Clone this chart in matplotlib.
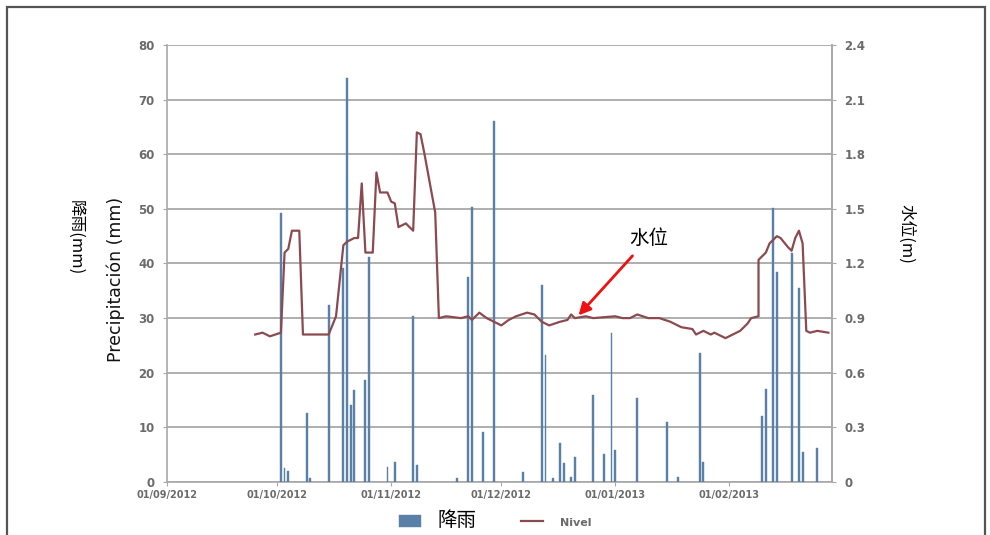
import datetime as dt
import matplotlib
matplotlib.use("Agg")
import matplotlib.pyplot as plt
import matplotlib.dates as mdates
from matplotlib.patches import Rectangle

START = dt.date(2012, 9, 1)

# rainfall: day offset from 01/09/2012 and daily total (mm)
rain_day = [31.4, 32.6, 33.0, 38.5, 39.4, 44.6, 48.5, 49.4, 50.5, 51.4, 54.3, 55.6,
            60.3, 62.4, 67.4, 68.2, 79.3, 82.4, 83.1, 86.3, 89.3, 97.4, 102.2, 103.1,
            105.4, 107.2, 108.1, 110.4, 111.3, 116.3, 119.3, 121.2, 122.0, 128.3,
            136.2, 139.2, 145.3, 146.2, 162.1, 163.0, 165.3, 166.2, 170.2, 172.3,
            173.2, 177.1]
rain_mm = [49.2, 2.5, 2.0, 12.6, 0.7, 32.4, 39.2, 73.9, 14.1, 16.8, 18.7, 41.2,
           2.8, 3.7, 30.4, 3.1, 0.7, 37.6, 50.4, 9.2, 66.0, 1.9, 36.1, 23.2,
           0.7, 7.1, 3.4, 1.0, 4.6, 15.9, 5.2, 27.2, 5.9, 15.3,
           11.0, 1.0, 23.6, 3.7, 12.0, 17.1, 50.2, 38.5, 41.9, 35.5,
           5.5, 6.2]

# water level: day offset and level (m)
level_day = [24.6, 26.5, 28.5, 31.4, 32.3, 33.2, 34.3, 36.4, 37.8, 44.6, 46.4, 48.5,
             49.5, 51.2, 52.3, 53.4, 54.5, 56.2, 57.7, 58.8, 60.3, 61.5, 62.4, 63.9,
             65.0, 67.0, 67.7, 68.6, 69.3, 70.9, 72.7, 73.9, 74.5, 76.5, 80.0, 82.2,
             83.6, 85.8, 87.7, 89.9, 91.7, 93.6, 95.4, 98.1, 100.4, 102.6, 104.9,
             107.6, 109.4, 110.5, 111.7, 114.0, 116.7, 122.2, 124.0, 126.0, 128.5,
             131.2, 134.0, 137.6, 140.3, 143.0, 144.4, 146.7, 148.0, 149.8, 152.5,
             154.4, 156.2, 158.0, 159.4, 161.0, 161.9, 163.4, 164.8, 166.2, 167.7,
             169.2, 170.2, 171.3, 172.5, 173.4, 174.0, 175.7, 177.5, 180.2]
level_m = [0.81, 0.82, 0.80, 0.82, 1.26, 1.28, 1.38, 1.38, 0.81, 0.81, 0.91, 1.30,
           1.32, 1.34, 1.34, 1.64, 1.26, 1.26, 1.70, 1.59, 1.59, 1.54, 1.53, 1.40,
           1.42, 1.38, 1.38, 1.92, 1.91, 1.81, 1.59, 1.48, 0.90, 0.91, 0.90, 0.91,
           0.89, 0.93, 0.90, 0.88, 0.86, 0.89, 0.91, 0.93, 0.92, 0.88, 0.86,
           0.88, 0.89, 0.92, 0.90, 0.91, 0.90, 0.91, 0.90, 0.90, 0.92,
           0.90, 0.90, 0.88, 0.85, 0.84, 0.81, 0.83, 0.81, 0.82, 0.79,
           0.81, 0.83, 0.87, 0.90, 0.91, 1.22, 1.26, 1.31, 1.35, 1.34,
           1.29, 1.27, 1.34, 1.38, 1.31, 0.83, 0.82, 0.83, 0.82]

rain_ticks = list(range(0, 81, 10))
level_ticks = [0, 0.3, 0.6, 0.9, 1.2, 1.5, 1.8, 2.1, 2.4]
level_tick_labels = ["0", "0.3", "0.6", "0.9", "1.2", "1.5", "1.8", "2.1", "2.4"]
month_ticks = [dt.date(2012, 9, 1), dt.date(2012, 10, 1), dt.date(2012, 11, 1),
               dt.date(2012, 12, 1), dt.date(2013, 1, 1), dt.date(2013, 2, 1)]

CJK = ["Noto Sans CJK SC", "DejaVu Sans"]
TICK_GREY = "#6b6b6b"
GRID_GREY = "#a8a8a8"


def to_date(d):
    return START + dt.timedelta(days=d)


rain_dates = [to_date(d) for d in rain_day]
level_dates = [to_date(d) for d in level_day]

fig = plt.figure(figsize=(9.9, 5.35), dpi=100)
ax = fig.add_axes([0.1687, 0.0991, 0.6717, 0.8168])

bars = ax.bar(rain_dates, rain_mm, width=0.5, color="#5b80a8",
              edgecolor="#5b80a8", linewidth=0.3, zorder=3)
ax.set_ylim(0, 80)
ax.set_yticks(rain_ticks)
ax.set_xlim(START, dt.date(2013, 3, 1))
ax.set_xticks(month_ticks)
ax.xaxis.set_major_formatter(mdates.DateFormatter("%d/%m/%Y"))
ax.grid(axis="y", color=GRID_GREY, linewidth=1.3, zorder=0)
ax.set_axisbelow(True)

ax.spines["top"].set_visible(False)
for side in ("left", "right", "bottom"):
    ax.spines[side].set_color(GRID_GREY)
    ax.spines[side].set_linewidth(1.2)

ax.tick_params(axis="y", length=3, color=GRID_GREY, labelsize=8.5,
               labelcolor=TICK_GREY, pad=6)
ax.tick_params(axis="x", length=3, color=GRID_GREY, labelsize=7,
               labelcolor=TICK_GREY, pad=3)
for lbl in ax.get_yticklabels() + ax.get_xticklabels():
    lbl.set_fontweight("bold")

ax2 = ax.twinx()
line, = ax2.plot(level_dates, level_m, color="#8b4a50", linewidth=1.6, zorder=4)
ax2.set_ylim(0, 2.4)
ax2.set_yticks(level_ticks)
ax2.set_yticklabels(level_tick_labels)
ax2.spines["top"].set_visible(False)
ax2.spines["left"].set_visible(False)
ax2.spines["bottom"].set_visible(False)
ax2.spines["right"].set_color(GRID_GREY)
ax2.spines["right"].set_linewidth(1.2)
ax2.tick_params(axis="y", length=3, color=GRID_GREY, labelsize=8.5,
                labelcolor=TICK_GREY, pad=6)
for lbl in ax2.get_yticklabels():
    lbl.set_fontweight("bold")

# axis titles
fig.text(0.076, 0.555, "降雨(mm)", rotation=-90, ha="center", va="center",
         fontsize=12, family=CJK)
fig.text(0.117, 0.477, "Precipitación (mm)", rotation=90, ha="center", va="center",
         fontsize=12.5, family=["DejaVu Sans"], color="#111111")
fig.text(0.915, 0.562, "水位(m)", rotation=-90, ha="center", va="center",
         fontsize=12, family=CJK)

# callout for the level series
ax2.annotate("水位", xy=(to_date(112.8), 0.915), xytext=(to_date(131.5), 1.28),
             fontsize=14, family=CJK, ha="center", va="bottom",
             arrowprops=dict(arrowstyle="-|>", color="#ee1111", lw=2,
                             mutation_scale=18, shrinkA=4, shrinkB=0))

leg = fig.legend([bars, line], ["降雨", "Nivel"], loc="center",
                 bbox_to_anchor=(0.5, 0.027), ncol=2, frameon=False,
                 handlelength=1.6, handleheight=0.9, columnspacing=3.2,
                 handletextpad=1.2)
leg.get_texts()[0].set_fontfamily(CJK)
leg.get_texts()[0].set_fontsize(14)
leg.get_texts()[1].set_fontsize(8)
leg.get_texts()[1].set_fontweight("bold")
leg.get_texts()[1].set_color(TICK_GREY)

# outer frame around the figure
fig.patches.append(Rectangle((0.007, -0.02), 0.988, 1.007, transform=fig.transFigure,
                             fill=False, edgecolor="#555555", linewidth=1.6))

fig.savefig("out.png", dpi=100)
